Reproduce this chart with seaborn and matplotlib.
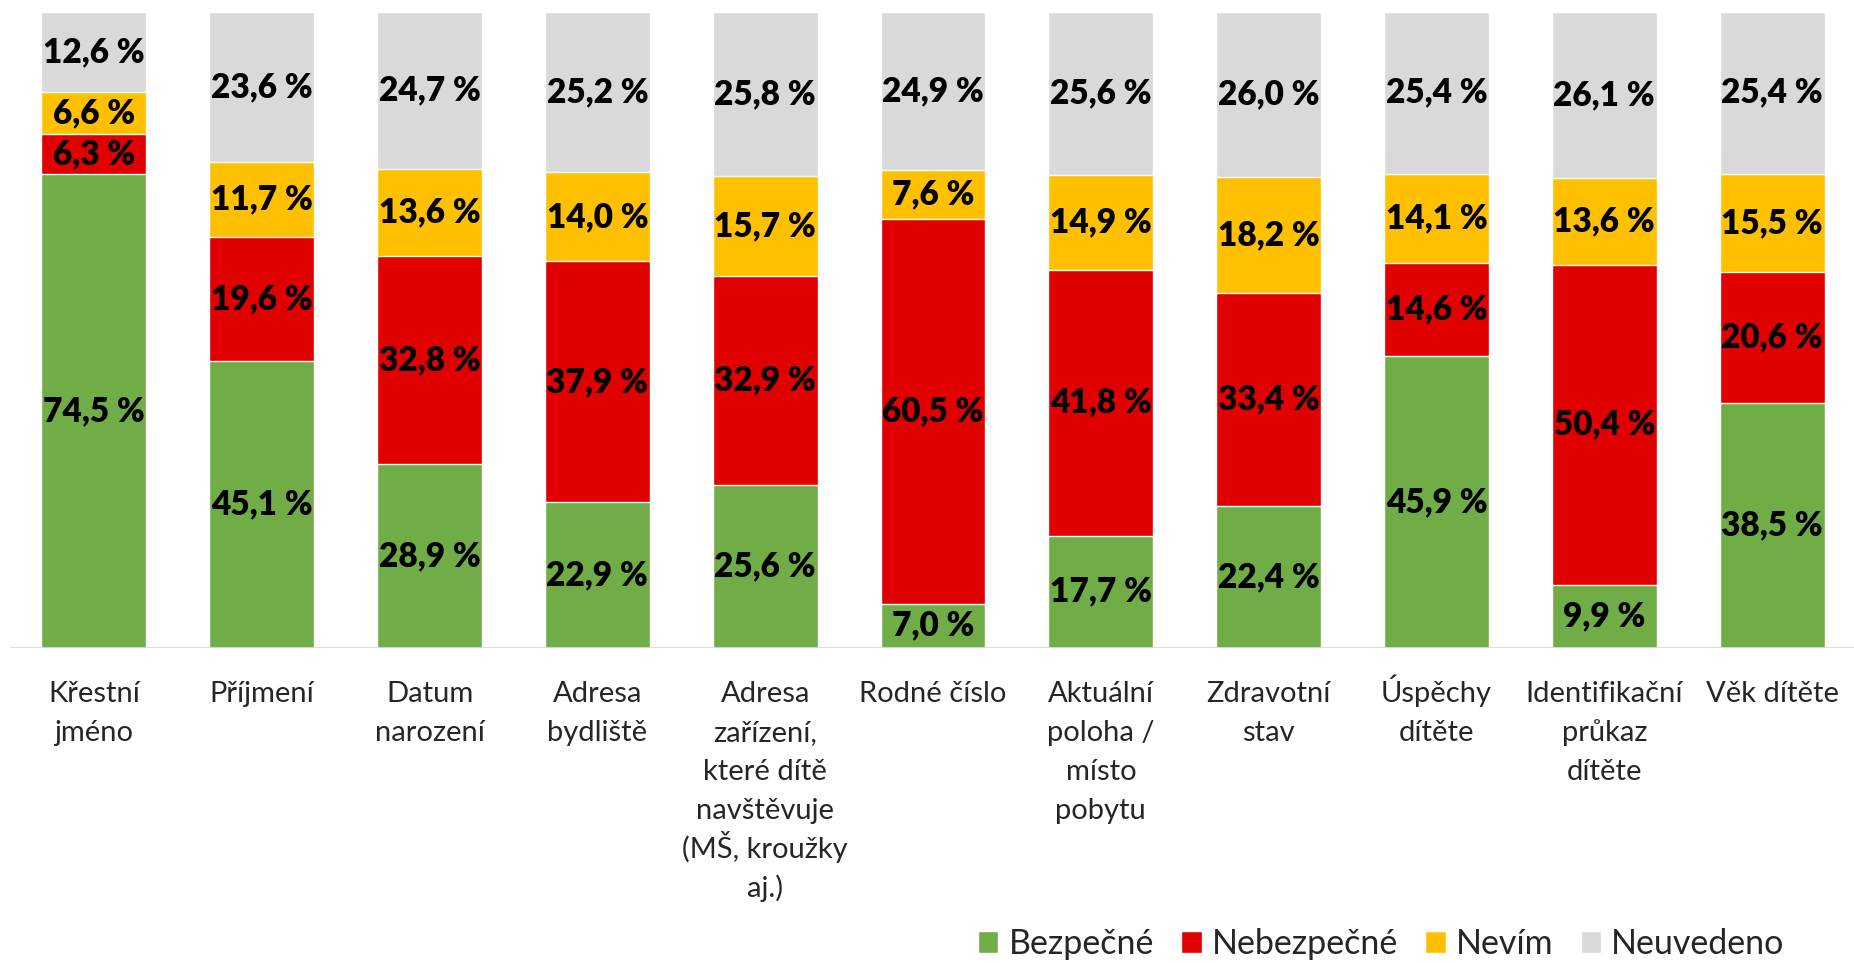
import numpy as np
import pandas as pd
import seaborn as sns
import matplotlib.pyplot as plt
from matplotlib.patches import Patch

"""
Data
"""
categories = ['Křestní\njméno', 'Příjmení', 'Datum\nnarození', 'Adresa\nbydliště',
              'Adresa\nzařízení,\nkteré dítě\nnavštěvuje\n(MŠ, kroužky\naj.)',
              'Rodné číslo', 'Aktuální\npoloha /\nmísto\npobytu', 'Zdravotní\nstav',
              'Úspěchy\ndítěte', 'Identifikační\nprůkaz\ndítěte', 'Věk dítěte']

bezpecne = [74.5, 45.1, 28.9, 22.9, 25.6, 7.0, 17.7, 22.4, 45.9, 9.9, 38.5]
nebezpecne = [6.3, 19.6, 32.8, 37.9, 32.9, 60.5, 41.8, 33.4, 14.6, 50.4, 20.6]
nevim = [6.6, 11.7, 13.6, 14.0, 15.7, 7.6, 14.9, 18.2, 14.1, 13.6, 15.5]
neuvedeno = [12.6, 23.6, 24.7, 25.2, 25.8, 24.9, 25.6, 26.0, 25.4, 26.1, 25.4]

series = ['Bezpečné', 'Nebezpečné', 'Nevím', 'Neuvedeno']
colors = ['#70AD47', '#E00000', '#FFC000', '#D9D9D9']

df = pd.DataFrame({'cat': categories, 'Bezpečné': bezpecne, 'Nebezpečné': nebezpecne,
                   'Nevím': nevim, 'Neuvedeno': neuvedeno})

"""
Plot
"""
sns.set_style('white')
plt.rcParams['font.family'] = ['Lato', 'DejaVu Sans']

fig = plt.figure(figsize=(18.54, 9.63), dpi=100)
ax = fig.add_axes([10 / 1854, 0.327, 1846 / 1854, 0.6605])

# stacked bars: draw cumulative totals from the top series down
cum = df[series].cumsum(axis=1)
for s, c in reversed(list(zip(series, colors))):
    sns.barplot(x=df['cat'], y=cum[s], color=c, width=0.625, saturation=1, ax=ax)

# segment labels
for i in range(len(df)):
    bottom = 0
    for s in series:
        v = df[s][i]
        ax.text(i, bottom + v / 2, f'{v:.1f} %'.replace('.', ','), ha='center', va='center',
                fontsize=24, fontweight='heavy', color='black')
        bottom += v

ax.set_xlim(-0.5, len(df) - 0.5)
ax.set_ylim(0, 100)
ax.axhline(0, color='#D9D9D9', linewidth=2, zorder=5)
sns.despine(ax=ax, left=True, bottom=True)
ax.set_yticks([])
ax.set_xlabel('')
ax.set_ylabel('')
ax.set_xticks(range(len(df)))
ax.set_xticklabels([])
ax.tick_params(axis='x', length=0)

# category labels, one line at a time so accents don't shift the line spacing
for i, cat in enumerate(categories):
    for j, line in enumerate(cat.split('\n')):
        ax.annotate(line, xy=(i, 0), xycoords='data', xytext=(0, -(54 + 39 * j) * 0.72),
                    textcoords='offset points', ha='center', va='baseline', fontsize=21)

handles = [Patch(facecolor=c, label=s) for s, c in zip(series, colors)]
fig.legend(handles=handles, loc='center', bbox_to_anchor=(0.745, 0.02), ncol=4, frameon=False,
           fontsize=24.5, handlelength=0.6, handleheight=0.6, handletextpad=0.3,
           columnspacing=0.8)

plt.savefig('out.png', dpi=100)
plt.close()
